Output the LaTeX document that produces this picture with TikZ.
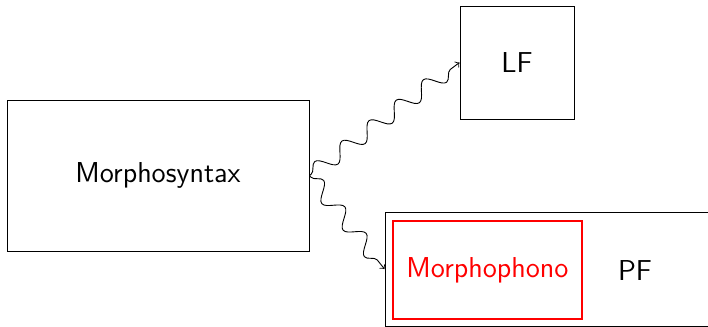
\documentclass[tikz,border=0pt]{standalone}
\usetikzlibrary{decorations.pathmorphing}
\begin{document}
\begin{tikzpicture}[x=0.5pt,y=-0.5pt,
  box/.style={draw, line width=0.5pt, inner sep=0pt, rectangle, font=\sffamily\Large},
  redbox/.style={draw=red, line width=1pt, inner sep=0pt, rectangle, text=red, font=\sffamily\Large},
  lbl/.style={inner sep=0pt, font=\sffamily\Large},
  wig/.style={->, line width=0.45pt, decorate, decoration={snake, amplitude=4pt, segment length=17pt, pre length=1pt, post length=5pt}}]
\useasboundingbox (0,0) rectangle (708,327);
\clip (0,0) rectangle (708,327);
\node[box, minimum width=151pt, minimum height=75.5pt] (ms) at (158,175.5) {Morphosyntax};
\node[box, minimum width=57pt, minimum height=56.5pt] (lf) at (517,62.5) {LF};
\node[box, minimum width=167.5pt, minimum height=57pt] (pf) at (552.5,269) {};
\node[redbox, minimum width=94.5pt, minimum height=49pt] (mp) at (487.5,270) {Morphophono};
\node[lbl] (pft) at (635,271) {PF};
\draw[wig] (ms.east) -- (lf.west);
\draw[wig] (ms.east) -- (pf.west);
\end{tikzpicture}
\end{document}
